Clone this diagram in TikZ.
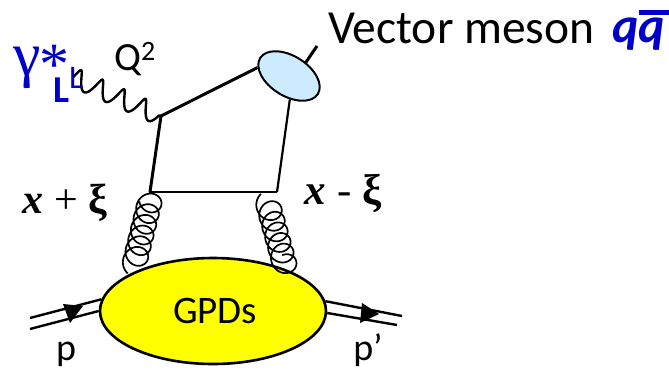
\documentclass[tikz,border=0pt]{standalone}
\usepackage{fontspec}
\setmainfont{Carlito}
\newfontfamily\serifgr{Liberation Serif}
\usetikzlibrary{shapes.geometric}
\definecolor{bluetxt}{HTML}{0000C8}
\definecolor{mesonfill}{HTML}{CCEBFF}
\definecolor{blobfill}{HTML}{FFFF00}
\tikzset{
  fermion/.style={line width=3pt,black},
  thinf/.style={line width=2.2pt,black},
  gluon/.style={line width=1.7pt},
  photon/.style={line width=2.4pt,line join=round},
  proton/.style={line width=2.4pt},
  tip/.style={fill=black,draw=none},
  lab/.style={inner sep=0pt,black},
  bluelab/.style={inner sep=0pt,text=bluetxt}
}
\newcommand{\fs}[1]{\fontsize{#1}{#1}\selectfont}
\begin{document}
\begin{tikzpicture}[x=1pt,y=-1pt]
\useasboundingbox (0,0) rectangle (669,370);
% vertices
\coordinate (ph0) at (71,76);
\coordinate (v1) at (161,116);
\coordinate (v2) at (150,192);
\coordinate (v3) at (277,192);
\coordinate (out) at (317,46);
\coordinate (g1a) at (151,197);
\coordinate (g2a) at (266,197);
\coordinate (pL1) at (30,318);
\coordinate (pL2) at (30,329);
\coordinate (pR1) at (402,316);
\coordinate (pR2) at (397,325);
% blob
\node[draw,line width=2.6pt,fill=blobfill,ellipse,minimum width=226pt,minimum height=106pt,inner sep=0pt] (gpd) at (213,311) {\hspace{4pt}\fs{39}GPDs};
% gluons
\begin{scope}[shift={(g1a)},rotate=-14]
\draw[gluon] plot[domain=-60:2140,samples=260,smooth] ({12*sin(\x)},{0.03056*\x+12*cos(\x)+3});
\end{scope}
\begin{scope}[shift={(g2a)},rotate=15.5]
\draw[gluon] plot[domain=200:2340,samples=260,smooth] ({12*sin(\x)},{0.03056*(\x-200)+12*cos(\x)+7});
\end{scope}
% protons
\draw[proton] (pL1) -- (gpd.174);
\draw[proton] (pL2) -- (gpd.180);
\draw[proton] (gpd.5) -- (pR1);
\draw[proton] (gpd.-1) -- (pR2);
\coordinate (tl1) at (63,304);
\coordinate (tl2) at (70,323);
\coordinate (tl3) at (83,306);
\fill[tip] (tl1) -- (tl2) -- (tl3) -- cycle;
\coordinate (tr1) at (362,303);
\coordinate (tr2) at (360,323);
\coordinate (tr3) at (379,314);
\fill[tip] (tr1) -- (tr2) -- (tr3) -- cycle;
% meson
\node[draw,line width=2pt,fill=mesonfill,ellipse,minimum width=68pt,minimum height=40pt,inner sep=0pt,rotate=-32] (meson) at (289,76) {};
% quark lines
\draw[fermion] (v1) -- (meson.197);
\draw[fermion,line cap=round] (v1) -- (v2);
\draw[thinf] (v2) -- (v3);
\draw[thinf] (v3) -- (meson.-56);
\draw[fermion] (meson.71) -- (out);
% photon
\begin{scope}[shift={(ph0)},rotate=-24]
\draw[photon] plot[domain=0:1440,samples=160,smooth] ({1+0.06528*\x+1.5*cos(\x)},{-9.5*sin(\x)}) coordinate (phend);
\end{scope}
\draw[photon] (phend) -- (v1);
% labels
\node[bluelab,anchor=base] (gam) at (27,75) {\serifgr\fs{62}γ};
\node[bluelab,anchor=base] (star) at (54,84) {\serifgr\fs{60}*};
\node[bluelab,anchor=base] (lbig) at (62,102) {\bfseries\fs{38}L};
\node[bluelab,anchor=base] (lsmall) at (76,88) {\fs{33}L};
\node[lab,anchor=base] (q2) at (135,70) {\fs{40}Q\textsuperscript{2}};
\node[lab,anchor=base west] (vm) at (328,43) {\fs{47.5}Vector meson};
\node[bluelab,anchor=base west] (qq) at (612,42) {\bfseries\itshape\fs{50}qq};
\fill[bluetxt] (639,10) rectangle (669,15);
\node[lab,anchor=base] (xp) at (65,213) {\serifgr\fs{42}\textbf{\textit{x}} + \textbf{ξ}};
\node[lab,anchor=base] (xm) at (343,204) {\serifgr\fs{43}\textbf{\textit{x}} - \textbf{ξ}};
\node[lab,anchor=base] (p) at (66,360.5) {\fs{38}p};
\node[lab,anchor=base] (pp) at (368,360.5) {\fs{38}p’};
\end{tikzpicture}
\end{document}
